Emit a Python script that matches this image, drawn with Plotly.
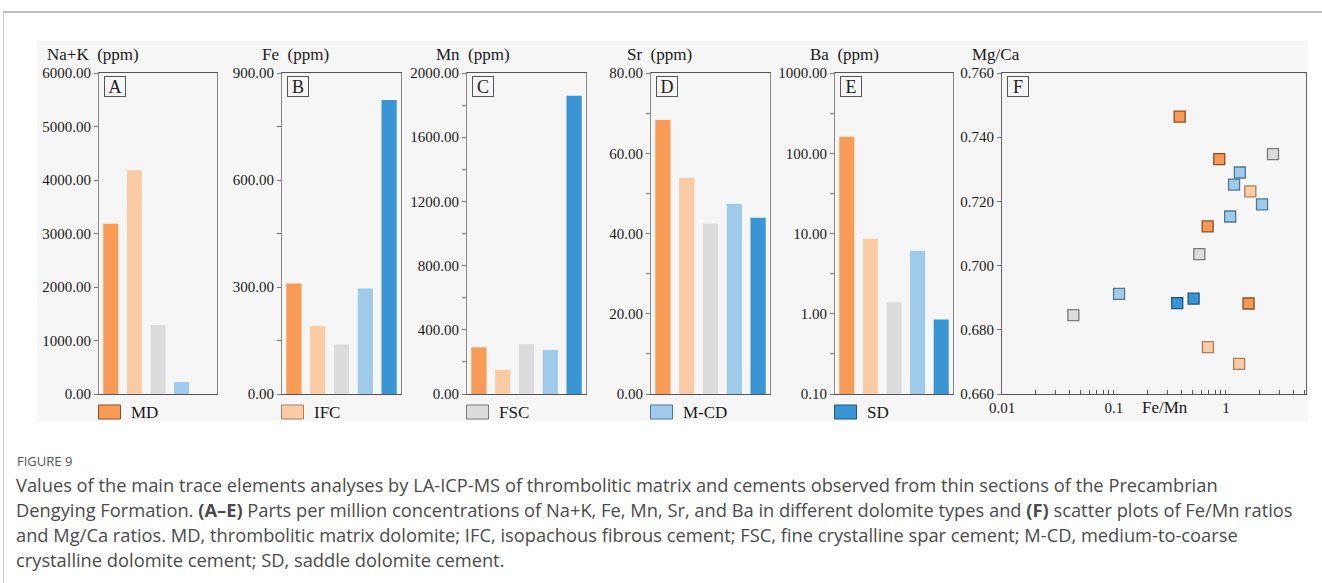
import plotly.graph_objects as go

W, H = 1322, 583

# dolomite types shared by every panel
types = ["MD", "IFC", "FSC", "M-CD", "SD"]
fill = ["#F79B56", "#FBCBA6", "#DCDCDC", "#A0CAEA", "#3A95D5"]
edge = ["#8C4E22", "#A9805F", "#7A7A7A", "#4E7897", "#1F5482"]

# mean concentrations (ppm)
na_k = [3180, 4180, 1290, 225, None]
fe = [310, 191, 139, 296, 824]
mn = [291, 150, 311, 274, 1859]
sr = [68.3, 53.9, 42.5, 47.4, 43.9]
ba = [160, 8.6, 1.39, 6.1, 0.85]

# Fe/Mn vs Mg/Ca per dolomite type
md_fe_mn = [0.386, 0.871, 0.686, 1.59]
md_mg_ca = [0.7464, 0.7332, 0.7122, 0.6882]
ifc_fe_mn = [1.65, 0.69, 1.31]
ifc_mg_ca = [0.7231, 0.6746, 0.6694]
fsc_fe_mn = [2.63, 0.578, 0.0434]
fsc_mg_ca = [0.7347, 0.7036, 0.6846]
mcd_fe_mn = [1.33, 1.18, 2.10, 1.09, 0.111]
mcd_mg_ca = [0.7290, 0.7252, 0.7191, 0.7153, 0.6912]
sd_fe_mn = [0.367, 0.514]
sd_mg_ca = [0.6883, 0.6897]

scatter_sets = [
    (md_fe_mn, md_mg_ca),
    (ifc_fe_mn, ifc_mg_ca),
    (fsc_fe_mn, fsc_mg_ca),
    (mcd_fe_mn, mcd_mg_ca),
    (sd_fe_mn, sd_mg_ca),
]

panel_titles = ["Na+K\u00a0 (ppm)", "Fe\u00a0 (ppm)", "Mn\u00a0 (ppm)",
                "Sr\u00a0 (ppm)", "Ba\u00a0 (ppm)", "Mg/Ca"]
panel_letters = ["A", "B", "C", "D", "E", "F"]

# panel frames in pixels (left, right); all share top/bottom
px_lr = [(99, 217), (282, 401), (467, 586), (651, 770), (835, 953), (1002, 1306)]
PT, PB = 73, 394

SERIF = "Liberation Serif"
FS = 15


def fx(p):
    return p / W


def fy(p):
    return 1 - p / H


fig = go.Figure()

bar_data = [na_k, fe, mn, sr, ba]
for i, vals in enumerate(bar_data):
    sfx = "" if i == 0 else str(i + 1)
    fig.add_trace(go.Bar(
        x=list(range(len(types))), y=vals,
        marker=dict(color=fill, line=dict(width=0)),
        width=0.64, showlegend=False,
        xaxis="x" + sfx, yaxis="y" + sfx,
    ))

for k, (xs, ys) in enumerate(scatter_sets):
    fig.add_trace(go.Scatter(
        x=xs, y=ys, mode="markers", name=types[k], showlegend=False,
        marker=dict(symbol="square", size=11, color=fill[k],
                    line=dict(color=edge[k], width=1.3)),
        xaxis="x6", yaxis="y6",
    ))

axis_line = dict(showline=True, mirror=True, zeroline=False, showgrid=False)
layout = dict(
    width=W, height=H,
    margin=dict(l=0, r=0, t=0, b=0, autoexpand=False),
    paper_bgcolor="white", plot_bgcolor="rgba(0,0,0,0)",
    font=dict(family=SERIF, size=FS, color="#1a1a1a"),
    bargap=0.3,
)

y_specs = [
    dict(range=[0, 6000], tickvals=[0, 1000, 2000, 3000, 4000, 5000, 6000],
         tickformat=".2f"),
    dict(range=[0, 900], tickvals=[0, 300, 600, 900], tickformat=".2f",
         minor=dict(dtick=150, ticks="outside", ticklen=4, tickcolor="#777")),
    dict(range=[0, 2000], tickvals=[0, 400, 800, 1200, 1600, 2000], tickformat=".2f",
         minor=dict(dtick=200, ticks="outside", ticklen=4, tickcolor="#777")),
    dict(range=[0, 80], tickvals=[0, 20, 40, 60, 80], tickformat=".2f",
         minor=dict(dtick=10, ticks="outside", ticklen=4, tickcolor="#777")),
    dict(type="log", range=[-1, 3],
         tickvals=[0.1, 0.316, 1, 3.16, 10, 31.6, 100, 316, 1000],
         ticktext=["0.10", "", "1.00", "", "10.00", "", "100.00", "", "1000.00"]),
    dict(range=[0.660, 0.760], tickvals=[0.66, 0.68, 0.70, 0.72, 0.74, 0.76],
         tickformat=".3f"),
]

fmn_ticks = [0.01 * m for m in range(1, 10)] + [0.1 * m for m in range(1, 10)] + [1, 2, 3, 4, 5]
fmn_text = ["0.01"] + [""] * 8 + ["0.1"] + [""] * 8 + ["1", "", "", "", ""]

for i in range(6):
    sfx = "" if i == 0 else str(i + 1)
    l, r = px_lr[i]
    dom_x = [fx(l), fx(r)]
    dom_y = [fy(PB), fy(PT)]
    if i < 5:
        xa = dict(domain=dom_x, anchor="y" + sfx, range=[-0.5, 4.5],
                  showticklabels=False, ticks="", **axis_line,
                  linecolor="#555", linewidth=1.4, fixedrange=True)
    else:
        xa = dict(domain=dom_x, anchor="y" + sfx, type="log",
                  range=[-2, 0.7145], tickvals=fmn_ticks, ticktext=fmn_text,
                  ticks="inside", ticklen=4, tickcolor="#555",
                  **axis_line, linecolor="#555", linewidth=1.4)
    ya = dict(domain=dom_y, anchor="x" + sfx, ticks="outside", ticklen=4,
              tickcolor="#777", **axis_line,
              linecolor="#666" if i == 5 else "#8a8a8a", linewidth=1.2,
              **y_specs[i])
    layout["xaxis" + sfx] = xa
    layout["yaxis" + sfx] = ya

fig.update_layout(**layout)

shapes = []
annotations = []

# figure frame and grey chart panel
shapes.append(dict(type="rect", xref="paper", yref="paper",
                   x0=fx(37), x1=fx(1308), y0=fy(421), y1=fy(41),
                   fillcolor="#f6f6f6", line=dict(width=0), layer="below"))
shapes.append(dict(type="line", xref="paper", yref="paper",
                   x0=fx(3), x1=1, y0=fy(12), y1=fy(12),
                   line=dict(color="#a8a8a8", width=1.5)))
shapes.append(dict(type="line", xref="paper", yref="paper",
                   x0=fx(3.5), x1=fx(3.5), y0=0, y1=fy(12),
                   line=dict(color="#c8c8c8", width=1)))

title_cx = [93, 295, 473, 659, 844, 996]
for i in range(6):
    l, r = px_lr[i]
    annotations.append(dict(
        text=panel_titles[i], x=fx(title_cx[i]), y=fy(55), xref="paper",
        yref="paper", xanchor="center", yanchor="middle", showarrow=False,
        font=dict(family=SERIF, size=17, color="#1a1a1a")))
    annotations.append(dict(
        text=panel_letters[i], x=fx(l + 5), y=fy(PT + 3), xref="paper",
        yref="paper", xanchor="left", yanchor="top", showarrow=False,
        font=dict(family=SERIF, size=18, color="#222"),
        bordercolor="#555", borderwidth=1, borderpad=0, width=20, height=19))

# legend row: one swatch under each bar panel
for k in range(5):
    l = px_lr[k][0]
    shapes.append(dict(type="rect", xref="paper", yref="paper",
                       x0=fx(l - 0.5), x1=fx(l + 21.5), y0=fy(419), y1=fy(405),
                       fillcolor=fill[k], line=dict(color=edge[k], width=1)))
    annotations.append(dict(
        text=types[k], x=fx(l + 30), y=fy(412.5), xref="paper", yref="paper",
        xanchor="left", yanchor="middle", showarrow=False,
        font=dict(family=SERIF, size=FS + 2, color="#1a1a1a")))

annotations.append(dict(
    text="Fe/Mn", x=fx(1165), y=fy(407), xref="paper", yref="paper",
    xanchor="center", yanchor="middle", showarrow=False,
    font=dict(family=SERIF, size=FS + 2, color="#1a1a1a")))

# caption
CAP = "Open Sans"
annotations.append(dict(
    text="FIGURE 9", x=fx(15), y=fy(461), xref="paper", yref="paper",
    xanchor="left", yanchor="middle", showarrow=False,
    font=dict(family=CAP, size=13, color="#555")))
caption_lines = [
    "Values of the main trace elements analyses by LA-ICP-MS of thrombolitic matrix and cements observed from thin sections of the Precambrian",
    "Dengying Formation. <b>(A–E)</b> Parts per million concentrations of Na+K, Fe, Mn, Sr, and Ba in different dolomite types and <b>(F)</b> scatter plots of Fe/Mn ratios",
    "and Mg/Ca ratios. MD, thrombolitic matrix dolomite; IFC, isopachous fibrous cement; FSC, fine crystalline spar cement; M-CD, medium-to-coarse",
    "crystalline dolomite cement; SD, saddle dolomite cement.",
]
for j, line in enumerate(caption_lines):
    annotations.append(dict(
        text=line, x=fx(14), y=fy(484 + 25 * j), xref="paper", yref="paper",
        xanchor="left", yanchor="middle", showarrow=False,
        font=dict(family=CAP, size=18.3, color="#4a4a4a")))

fig.update_layout(shapes=shapes, annotations=annotations)
fig.write_html("out.html")
